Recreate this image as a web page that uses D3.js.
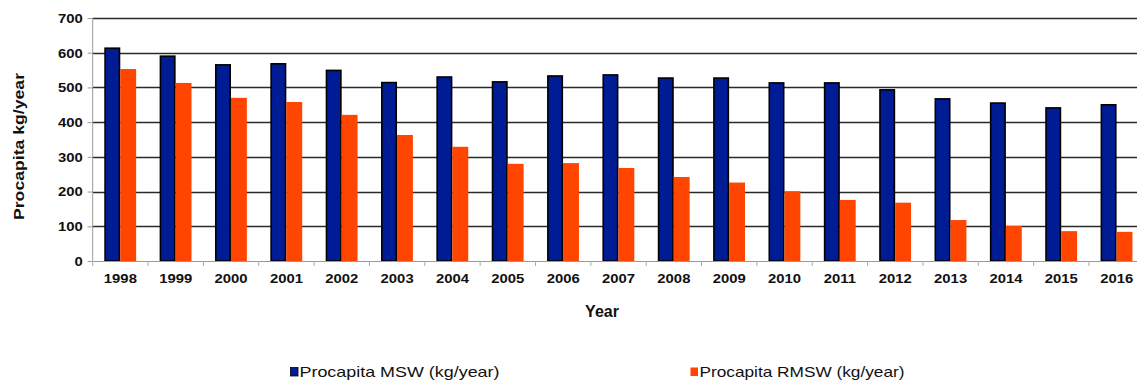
<!DOCTYPE html>
<html>
<head>
<meta charset="utf-8">
<script src="https://cdn.jsdelivr.net/npm/d3@7"></script>
<style>
  html, body { margin: 0; padding: 0; background: #fff; }
  svg { display: block; font-family: "Liberation Sans", Arial, sans-serif; }
</style>
</head>
<body>
<svg id="chart" width="1137" height="381"></svg>
<script>
// Per-capita municipal solid waste, 1998–2016
const years = ["1998","1999","2000","2001","2002","2003","2004","2005","2006","2007",
               "2008","2009","2010","2011","2012","2013","2014","2015","2016"];
const msw  = [613, 590, 565, 568, 549, 514, 530, 516, 533, 536, 527, 527, 513, 513, 493, 467, 455, 441, 450];
const rmsw = [553, 513, 470, 458, 421, 363, 329, 280, 282, 268, 242, 226, 201, 176, 168, 118, 101, 86, 84];
const yTicks = [0, 100, 200, 300, 400, 500, 600, 700];
const seriesNames = ["Procapita MSW (kg/year)", "Procapita RMSW (kg/year)"];
const seriesColors = ["#001c94", "#ff4500"];

const svg = d3.select("#chart");
const plotLeft = 92.7, plotTop = 18, plotBottom = 261;
const band = 55.35;
const plotRight = plotLeft + band * years.length;

const x = d3.scaleBand().domain(years).range([plotLeft, plotRight]).padding(0);
const xs = d3.scaleBand().domain(["msw", "rmsw"])
  .range([x.bandwidth() * 0.21, x.bandwidth() * 0.785]).padding(0);
const y = d3.scaleLinear().domain([0, 700]).range([plotBottom, plotTop]);

// horizontal gridlines
svg.append("g").selectAll("line").data(yTicks.filter(d => d > 0)).join("line")
  .attr("x1", plotLeft).attr("x2", plotRight)
  .attr("y1", d => Math.round(y(d)) + 0.5).attr("y2", d => Math.round(y(d)) + 0.5)
  .attr("stroke", "#2a2a2a").attr("stroke-width", 1.4);

// y axis
const yAxis = d3.axisLeft(y).tickValues(yTicks).tickSize(5).tickPadding(0);
const gy = svg.append("g").attr("transform", `translate(${plotLeft},0)`).call(yAxis);
gy.select(".domain").attr("stroke", "#999").attr("d", `M0,${plotTop}V${plotBottom}`);
gy.selectAll(".tick line").attr("stroke", "#999");
gy.selectAll(".tick text")
  .attr("x", 0)
  .attr("transform", "translate(-10,0) scale(1.1,1)")
  .attr("font-size", 13.5).attr("font-weight", "bold").attr("fill", "#111");

// bars
const groups = svg.append("g").selectAll("g").data(years).join("g")
  .attr("transform", d => `translate(${x(d)},0)`);
groups.append("rect")
  .attr("x", xs("msw") + 0.75)
  .attr("width", xs.bandwidth() - 1.5)
  .attr("y", (d, i) => y(msw[i]))
  .attr("height", (d, i) => y(0) - y(msw[i]))
  .attr("fill", seriesColors[0]).attr("stroke", "#000").attr("stroke-width", 1.6);
groups.append("rect")
  .attr("x", xs("rmsw"))
  .attr("width", xs.bandwidth())
  .attr("y", (d, i) => y(rmsw[i]))
  .attr("height", (d, i) => y(0) - y(rmsw[i]))
  .attr("fill", seriesColors[1]);

// x axis
const xAxis = d3.axisBottom(x).tickSize(0).tickPadding(0);
const gx = svg.append("g").attr("transform", `translate(0,${plotBottom})`).call(xAxis);
gx.select(".domain").attr("stroke", "#999").attr("stroke-width", 1.2);
gx.selectAll(".tick text")
  .attr("y", 0).attr("dy", null)
  .attr("transform", "translate(0,21.5) scale(1.1,1)")
  .attr("font-size", 13.5).attr("font-weight", "bold").attr("fill", "#111");
gx.append("g").selectAll("line").data(years).join("line")
  .attr("x1", d => x(d)).attr("x2", d => x(d))
  .attr("y1", 0).attr("y2", 5)
  .attr("stroke", "#aaa");

// axis titles
svg.append("text").attr("x", 602).attr("y", 317)
  .attr("text-anchor", "middle").attr("font-size", 16).attr("font-weight", "bold")
  .attr("fill", "#111").text("Year");
svg.append("text").attr("transform", "translate(24,146.5) rotate(-90)")
  .attr("text-anchor", "middle").attr("font-size", 15.5).attr("font-weight", "bold")
  .attr("textLength", 147).attr("lengthAdjust", "spacingAndGlyphs")
  .attr("fill", "#111").text("Procapita kg/year");

// legend
const legend = [
  { sx: 290.5, tx: 299.5, w: 200 },
  { sx: 690.5, tx: 699.5, w: 205 }
];
legend.forEach((l, i) => {
  svg.append("rect").attr("x", l.sx).attr("y", 367.5).attr("width", 7.5).attr("height", 8.5)
    .attr("fill", seriesColors[i]).attr("stroke", i === 0 ? "#000" : "none").attr("stroke-width", 0.8);
  svg.append("text").attr("x", l.tx).attr("y", 376.5)
    .attr("font-size", 15).attr("fill", "#111")
    .attr("textLength", l.w).attr("lengthAdjust", "spacingAndGlyphs")
    .text(seriesNames[i]);
});
</script>
</body>
</html>
